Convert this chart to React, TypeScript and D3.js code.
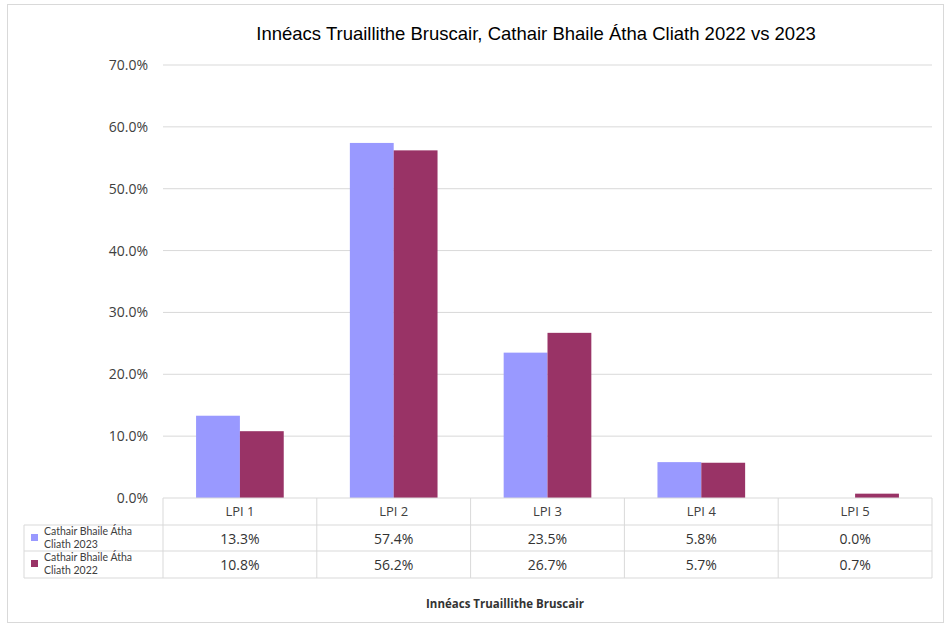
import React from "react";
import * as d3 from "d3";

const categories = ["LPI 1", "LPI 2", "LPI 3", "LPI 4", "LPI 5"];
const seriesNames = ["Cathair Bhaile Átha Cliath 2023", "Cathair Bhaile Átha Cliath 2022"];
const values2023 = [13.3, 57.4, 23.5, 5.8, 0.0];
const values2022 = [10.8, 56.2, 26.7, 5.7, 0.7];
const yTicks = [0, 10, 20, 30, 40, 50, 60, 70];
const colors = ["#9999FF", "#993366"];
const title = "Innéacs Truaillithe Bruscair, Cathair Bhaile Átha Cliath 2022 vs 2023";
const axisTitle = "Innéacs Truaillithe Bruscair";

const W = 946;
const H = 625;

export default function App() {
  const left = 163;
  const right = 932;
  const top = 65;
  const bottom = 498;
  const x = d3.scaleBand<string>().domain(categories).range([left, right]).paddingInner(0).paddingOuter(0);
  const y = d3.scaleLinear().domain([0, 70]).range([bottom, top]);
  const bw = x.bandwidth();
  const groupW = bw * 0.57;
  const barW = groupW / 2;
  const series = [values2023, values2022];
  const rowY = [498, 525, 551, 578];
  const legendLeft = 24;
  const font = "'Open Sans', 'DejaVu Sans', sans-serif";
  const legendFont = "Lato, 'Open Sans', sans-serif";
  const gridColor = "#d9d9d9";
  const textColor = "#404040";
  const f = (v: number) => v.toFixed(1) + "%";

  return (
    <svg width={W} height={H} style={{ position: "absolute", left: 0, top: 0, background: "#fff" }}>
      <rect x={7.5} y={4.5} width={936} height={618} fill="#fff" stroke="#d9d9d9" strokeWidth={1} />
      <text x={536} y={40} textAnchor="middle" fontFamily="'Liberation Sans', Arial, sans-serif" fontSize={18.5} fill="#000">
        {title}
      </text>
      {yTicks.map((t) => (
        <g key={t}>
          {t > 0 && (
            <line x1={left} x2={right} y1={y(t)} y2={y(t)} stroke={gridColor} strokeWidth={1} />
          )}
          <text x={148} y={y(t) + 5} textAnchor="end" fontFamily={font} fontSize={14} fill={textColor}>
            {f(t)}
          </text>
        </g>
      ))}
      {categories.map((c, i) => {
        const x0 = (x(c) as number) + (bw - groupW) / 2;
        return (
          <g key={c}>
            {series.map((vals, s) => (
              <rect
                key={s}
                x={x0 + s * barW}
                y={y(vals[i])}
                width={barW}
                height={bottom - y(vals[i])}
                fill={colors[s]}
              />
            ))}
          </g>
        );
      })}
      {/* table */}
      <g stroke={gridColor} strokeWidth={1} fill="none">
        <line x1={left} x2={right} y1={rowY[0]} y2={rowY[0]} />
        <line x1={legendLeft} x2={right} y1={rowY[1]} y2={rowY[1]} />
        <line x1={legendLeft} x2={right} y1={rowY[2]} y2={rowY[2]} />
        <line x1={legendLeft} x2={right} y1={rowY[3]} y2={rowY[3]} />
        <line x1={legendLeft} x2={legendLeft} y1={rowY[1]} y2={rowY[3]} />
        {categories.map((c) => (
          <line key={c} x1={x(c) as number} x2={x(c) as number} y1={rowY[0]} y2={rowY[3]} />
        ))}
        <line x1={right} x2={right} y1={rowY[0]} y2={rowY[3]} />
      </g>
      {categories.map((c) => (
        <text
          key={c}
          x={(x(c) as number) + bw / 2}
          y={rowY[0] + 18}
          textAnchor="middle"
          fontFamily={font}
          fontSize={13}
          fill={textColor}
        >
          {c}
        </text>
      ))}
      {series.map((vals, s) => (
        <g key={s}>
          <rect x={31} y={rowY[s + 1] + 9} width={7} height={7} fill={colors[s]} />
          <text x={44} y={rowY[s + 1] + 10} fontFamily={legendFont} fontSize={10.5} fill={textColor}>
            Cathair Bhaile Átha
          </text>
          <text x={44} y={rowY[s + 1] + 23} fontFamily={legendFont} fontSize={10.5} fill={textColor}>
            {seriesNames[s].replace("Cathair Bhaile Átha ", "")}
          </text>
          {categories.map((c, i) => (
            <text
              key={c}
              x={(x(c) as number) + bw / 2}
              y={rowY[s + 1] + 19}
              textAnchor="middle"
              fontFamily={font}
              fontSize={14}
              fill="#333"
            >
              {f(vals[i])}
            </text>
          ))}
        </g>
      ))}
      <text x={505} y={608} textAnchor="middle" fontFamily={font} fontSize={11.5} fontWeight="bold" fill="#333">
        {axisTitle}
      </text>
    </svg>
  );
}
